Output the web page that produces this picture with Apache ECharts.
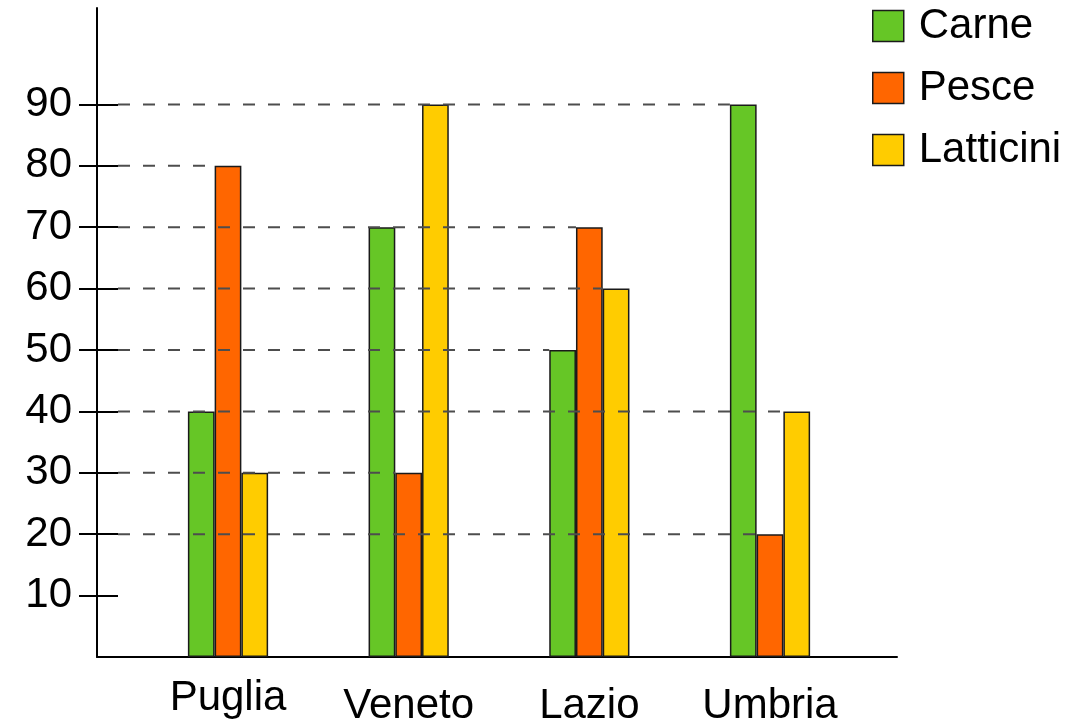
<!DOCTYPE html>
<html>
<head>
<meta charset="utf-8">
<style>
  html, body { margin: 0; padding: 0; background: #ffffff; }
  #chart { width: 1068px; height: 725px; }
</style>
<script src="https://cdn.jsdelivr.net/npm/echarts@6/dist/echarts.min.js"></script>
</head>
<body>
<div id="chart"></div>
<script>
// Regions on the horizontal axis
const categories = ['Puglia', 'Veneto', 'Lazio', 'Umbria'];

// Values per food type
const carne = [40, 70, 50, 90];
const pesce = [80, 30, 70, 20];
const latticini = [30, 90, 60, 40];

const seriesNames = ['Carne', 'Pesce', 'Latticini'];
const seriesColors = ['#66C626', '#FF6600', '#FFCC00'];

// Labelled ticks on the vertical axis
const yTicks = [10, 20, 30, 40, 50, 60, 70, 80, 90];

const FONT = 'Liberation Sans, Arial, sans-serif';
const FONT_SIZE = 42;
const BAR_FRAC = 0.148;   // bar width as a share of one category band
const TICK_OUT = 18;      // tick length left of the axis
const TICK_IN = 21;       // tick length right of the axis

const allSeries = [carne, pesce, latticini];

// A dashed guide runs from the axis to the left edge of the right-most bar
// whose height equals that tick value.
const guideLines = [];
yTicks.forEach(function (v) {
  let hit = null;
  for (let i = 0; i < categories.length; i++) {
    for (let s = 0; s < allSeries.length; s++) {
      if (allSeries[s][i] === v) hit = [i, v, s];
    }
  }
  if (hit) guideLines.push(hit);
});

const chart = echarts.init(document.getElementById('chart'), null, { renderer: 'canvas' });

const barSeries = allSeries.map(function (vals, s) {
  return {
    name: seriesNames[s],
    type: 'bar',
    barWidth: (BAR_FRAC * 100) + '%',
    barGap: '0%',
    itemStyle: { color: seriesColors[s], borderColor: '#1a1a1a', borderWidth: 1.5 },
    data: vals.map(function (v, i) { return [i, v]; }),
    z: 2
  };
});

const option = {
  animation: false,
  backgroundColor: '#ffffff',
  grid: { left: 97, right: 171, top: 8, bottom: 68, containLabel: false, outerBoundsMode: 'none' },
  legend: {
    orient: 'vertical',
    left: 867,
    top: 0,
    itemWidth: 31,
    itemHeight: 31,
    itemGap: 20,
    icon: 'rect',
    itemStyle: { borderColor: '#1a1a1a', borderWidth: 1.5 },
    textStyle: { fontFamily: FONT, fontSize: FONT_SIZE, lineHeight: 42, color: '#000', padding: [0, 0, 0, 10] },
    data: seriesNames
  },
  xAxis: {
    type: 'value',
    min: -0.7251,
    max: 3.7029,
    splitLine: { show: false },
    axisTick: { show: false },
    axisLine: { show: true, onZero: true, lineStyle: { color: '#000', width: 2 } },
    axisLabel: {
      customValues: categories.map(function (c, i) { return i; }),
      margin: 20,
      formatter: function (v) {
        const i = Math.round(v);
        return i === 0 ? '{hi|' + categories[i] + '}' : '{lo|' + categories[i] + '}';
      },
      rich: {
        hi: { fontFamily: FONT, fontSize: FONT_SIZE, color: '#000' },
        lo: { fontFamily: FONT, fontSize: FONT_SIZE, color: '#000', padding: [8, 0, 0, 0] }
      }
    }
  },
  yAxis: [
    {
      type: 'value',
      min: 0,
      max: 105.7,
      interval: 10,
      position: 'left',
      offset: 0,
      splitLine: { show: false },
      axisLine: { show: true, onZero: false, lineStyle: { color: '#000', width: 2 } },
      axisTick: { show: true, inside: false, length: TICK_OUT, customValues: yTicks, lineStyle: { color: '#000', width: 2 } },
      axisLabel: {
        customValues: yTicks,
        margin: 25,
        fontFamily: FONT,
        fontSize: FONT_SIZE,
        color: '#000'
      }
    },
    {
      type: 'value',
      min: 0,
      max: 105.7,
      interval: 10,
      position: 'left',
      offset: 0,
      splitLine: { show: false },
      axisLine: { show: false, onZero: false },
      axisTick: { show: true, inside: true, length: TICK_IN, customValues: yTicks, lineStyle: { color: '#000', width: 2 } },
      axisLabel: { show: false }
    }
  ],
  series: barSeries.concat([
    {
      type: 'custom',
      name: 'guides',
      xAxisIndex: 0,
      yAxisIndex: 0,
      z: 5,
      silent: true,
      encode: { x: 0, y: 1 },
      data: guideLines,
      renderItem: function (params, api) {
        const cs = params.coordSys;
        const i = api.value(0);
        const v = api.value(1);
        const s = api.value(2);
        const y = api.coord([0, v])[1];
        const bw = api.size([1, 0])[0] * BAR_FRAC;
        const cx = api.coord([i, v])[0];
        const xEnd = cx - 1.5 * bw + s * bw;
        return {
          type: 'line',
          shape: { x1: cs.x + TICK_IN, y1: y, x2: xEnd, y2: y },
          style: { stroke: '#4d4d4d', lineWidth: 2, lineDash: [12, 13] }
        };
      }
    }
  ])
};

chart.setOption(option);
</script>
</body>
</html>
